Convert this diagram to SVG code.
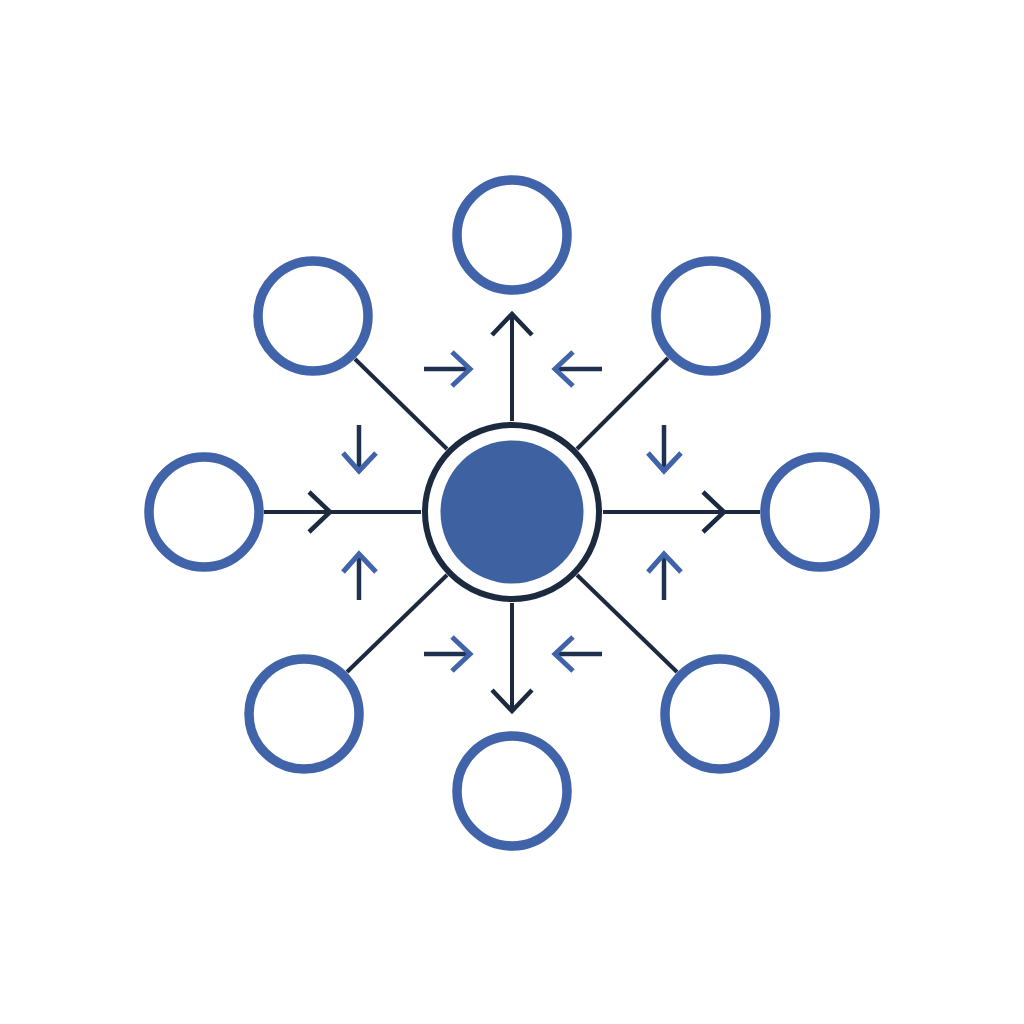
<svg xmlns="http://www.w3.org/2000/svg" width="1024" height="1024" viewBox="0 0 1024 1024">
  <style>
    .node { fill: #ffffff; stroke: #4063A9; stroke-width: 9.5; }
    .conn { fill: none; stroke: #1C2A40; stroke-width: 4; stroke-linecap: butt; }
    .head { fill: none; stroke: #1C2A40; stroke-width: 4.5; stroke-linejoin: miter; }
    .sline { fill: none; stroke: #1F3050; stroke-width: 4.5; }
    .shead { fill: none; stroke: #4063A9; stroke-width: 5; stroke-linejoin: miter; }
  </style>
  <rect width="1024" height="1024" fill="#ffffff"/>

  <g id="connectors">
    <!-- main spokes -->
    <line class="conn" x1="512" y1="421" x2="512" y2="315"/>
    <polyline class="head" points="492,335 512,314 532,335"/>
    <line class="conn" x1="512" y1="603" x2="512" y2="710"/>
    <polyline class="head" points="492,690 512,711 532,690"/>
    <line class="conn" x1="264" y1="512" x2="421" y2="512"/>
    <polyline class="head" points="309,492 330,512 309,532"/>
    <line class="conn" x1="603" y1="512" x2="760" y2="512"/>
    <polyline class="head" points="703,492 724,512 703,532"/>
    <line class="conn" x1="355" y1="359" x2="447" y2="449"/>
    <line class="conn" x1="668" y1="358" x2="577" y2="449"/>
    <line class="conn" x1="347" y1="672" x2="447" y2="575"/>
    <line class="conn" x1="677" y1="672" x2="577" y2="575"/>

    <!-- small flow arrows -->
    <g id="small-arrows">
      <line class="sline" x1="424" y1="369" x2="469" y2="369"/>
      <polyline class="shead" points="452,352 470,369 452,386"/>
      <line class="sline" x1="602" y1="369" x2="556" y2="369"/>
      <polyline class="shead" points="573,352 555,369 573,386"/>
      <line class="sline" x1="424" y1="654" x2="469" y2="654"/>
      <polyline class="shead" points="452,637 470,654 452,671"/>
      <line class="sline" x1="602" y1="654" x2="556" y2="654"/>
      <polyline class="shead" points="573,637 555,654 573,671"/>
      <line class="sline" x1="359" y1="425" x2="359" y2="470"/>
      <polyline class="shead" points="343,453 359,471 376,453"/>
      <line class="sline" x1="664" y1="425" x2="664" y2="470"/>
      <polyline class="shead" points="648,453 664,471 681,453"/>
      <line class="sline" x1="359" y1="600" x2="359" y2="555"/>
      <polyline class="shead" points="343,572 359,554 376,572"/>
      <line class="sline" x1="664" y1="600" x2="664" y2="555"/>
      <polyline class="shead" points="648,572 664,554 681,572"/>
    </g>
  </g>

  <g id="hub">
    <circle cx="512" cy="512" r="87" fill="#ffffff" stroke="#1C2A40" stroke-width="6"/>
    <circle cx="512" cy="512" r="71.5" fill="#3D61A1"/>
  </g>

  <g id="node-top"><circle class="node" cx="512" cy="235" r="55"/></g>
  <g id="node-top-right"><circle class="node" cx="711" cy="316" r="55"/></g>
  <g id="node-right"><circle class="node" cx="820" cy="512" r="55"/></g>
  <g id="node-bottom-right"><circle class="node" cx="720" cy="714" r="55"/></g>
  <g id="node-bottom"><circle class="node" cx="512" cy="791" r="55"/></g>
  <g id="node-bottom-left"><circle class="node" cx="304" cy="714" r="55"/></g>
  <g id="node-left"><circle class="node" cx="204" cy="512" r="55"/></g>
  <g id="node-top-left"><circle class="node" cx="313" cy="316" r="55"/></g>
</svg>
